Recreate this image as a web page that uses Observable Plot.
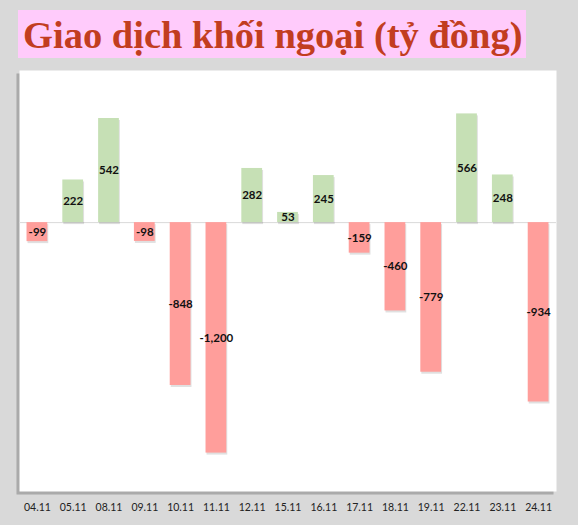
<!DOCTYPE html>
<html>
<head>
<meta charset="utf-8">
<script src="https://cdn.jsdelivr.net/npm/d3@7"></script>
<script src="https://cdn.jsdelivr.net/npm/@observablehq/plot@0.6"></script>
<style>
  html, body { margin: 0; padding: 0; background: #d9d9d9; width: 578px; height: 525px; overflow: hidden; }
  #title {
    position: absolute; left: 18px; top: 10px; width: 508px; height: 48px;
    background: #ffcbfb; color: #c23d20;
    font-family: "Liberation Serif", "DejaVu Serif", serif; font-weight: bold;
    font-size: 38.5px; line-height: 50px; padding-left: 5px; box-sizing: border-box; white-space: nowrap;
  }
  #chart { position: absolute; left: 0; top: 58px; }
</style>
</head>
<body>
<div id="title">Giao dịch khối ngoại (tỷ đồng)</div>
<div id="chart"></div>
<script>
const dates = ["04.11","05.11","08.11","09.11","10.11","11.11","12.11","15.11","16.11","17.11","18.11","19.11","22.11","23.11","24.11"];
const values = [-99, 222, 542, -98, -848, -1200, 282, 53, 245, -159, -460, -779, 566, 248, -934];

const data = dates.map((d, i) => ({date: d, value: values[i]}));
const fmt = v => v.toLocaleString("en-US");

const plot = Plot.plot({
  width: 578,
  height: 467,
  marginTop: 12,
  marginBottom: 34,
  marginLeft: 19,
  marginRight: 22,
  style: {background: "transparent", fontFamily: "Lato, 'Open Sans', sans-serif"},
  x: {domain: dates, paddingInner: 0.42, paddingOuter: 0.21, round: false, label: null},
  y: {domain: [-1400, 792], axis: null, label: null},
  marks: [
    Plot.frame({fill: "#8a8a8a", stroke: null, dx: -3, dy: 3, fillOpacity: 0.6}),
    Plot.frame({fill: "white", stroke: null}),
    Plot.ruleY([0], {stroke: "#d9d9d9", strokeWidth: 1}),
    Plot.barY(data, {x: "date", y: "value", fill: "#000", fillOpacity: 0.12, dx: 1, dy: 2}),
    Plot.barY(data, {x: "date", y: "value", fill: d => d.value >= 0 ? "#c6e0b5" : "#ff9e9b"}),
    Plot.text(data, {x: "date", y: d => d.value / 2, text: d => fmt(d.value), fill: "#111", fontWeight: "bold", fontSize: 11.5}),
    Plot.axisX({tickSize: 0, tickPadding: 12, fontSize: 10.5, fill: "#222", label: null})
  ]
});
document.getElementById("chart").appendChild(plot);
</script>
</body>
</html>
